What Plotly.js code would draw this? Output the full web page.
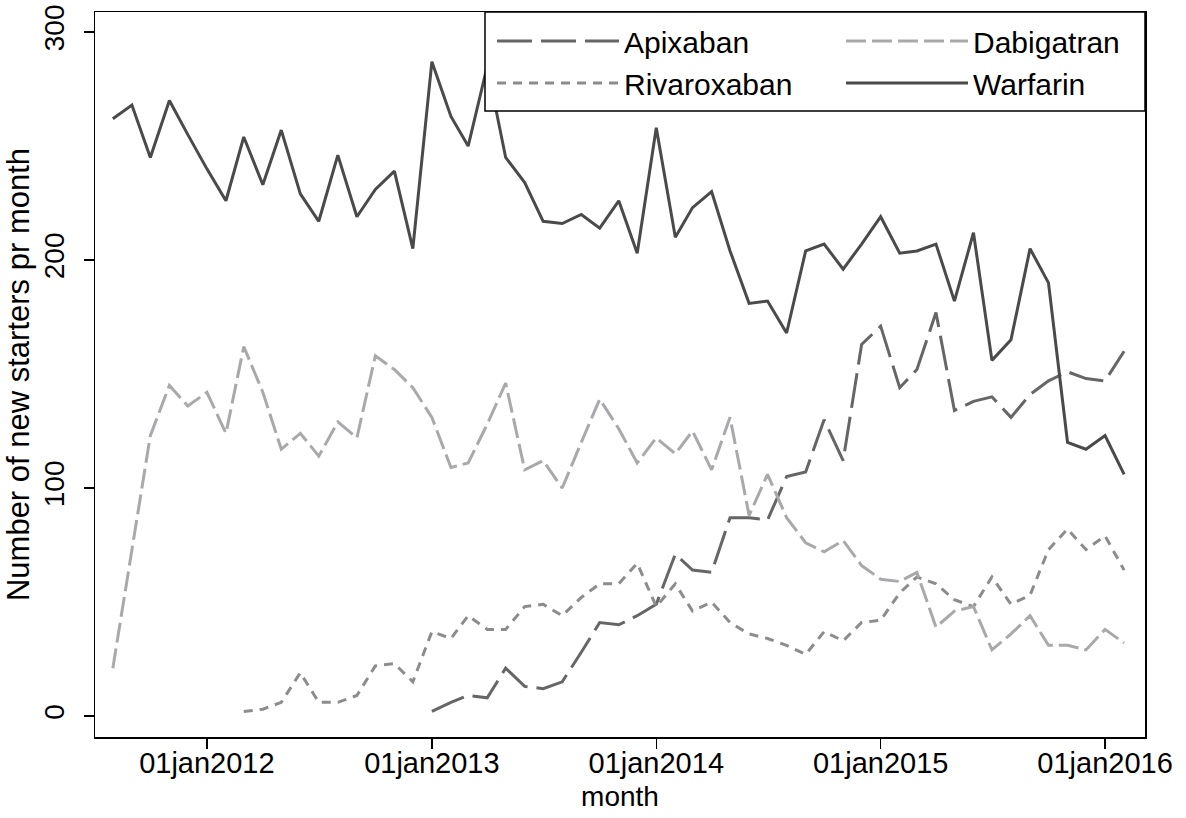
<!DOCTYPE html>
<html>
<head>
<meta charset="utf-8">
<script src="https://cdn.plot.ly/plotly-3.0.1.min.js"></script>
<style>html,body{margin:0;padding:0;background:#fff;}#chart{width:1186px;height:818px;}</style>
</head>
<body>
<div id="chart"></div>
<script>
// Months: Aug 2011 .. Feb 2016 (55 monthly points)
const startYear = 2011, startMonth = 8, nMonths = 55;
const months = [];
for (let k = 0; k < nMonths; k++) {
  const m0 = startMonth - 1 + k;
  const y = startYear + Math.floor(m0 / 12);
  const m = (m0 % 12) + 1;
  months.push(y + '-' + String(m).padStart(2, '0') + '-01');
}

const warfarin = [262, 268, 245, 270, 255, 240, 226, 254, 233, 257, 229, 217, 246, 219, 231, 239, 205, 287,
  263, 250, 285, 245, 234, 217, 216, 220, 214, 226, 203, 258, 210, 223, 230, 204, 181, 182, 168,
  204, 207, 196, 207, 219, 203, 204, 207, 182, 212, 156, 165, 205, 190, 120, 117, 123, 106];

const dabigatran = [21, 72, 123, 145, 136, 142, 124, 162, 142, 117, 124, 114, 129, 122, 158, 152, 144, 131,
  109, 111, 128, 146, 108, 112, 100, 120, 139, 126, 111, 122, 115, 125, 108, 131, 88, 106, 87,
  76, 72, 77, 66, 60, 59, 63, 39, 46, 48, 29, 36, 44, 31, 31, 29, 38, 32];

const rivaroxaban = [null, null, null, null, null, null, null, 2, 3, 6, 19, 6, 6, 9, 22, 23, 15, 37,
  34, 44, 38, 38, 48, 49, 44, 52, 58, 58, 67, 48, 58, 46, 50, 41, 36, 34, 31,
  27, 37, 33, 41, 42, 54, 61, 58, 51, 48, 61, 49, 53, 73, 82, 73, 79, 64];

const apixaban = [null, null, null, null, null, null, null, null, null, null, null, null, null, null, null, null, null, 2,
  6, 9, 8, 21, 13, 12, 15, 28, 41, 40, 44, 49, 71, 64, 63, 87, 87, 86, 105,
  107, 130, 112, 163, 171, 144, 152, 177, 134, 138, 140, 131, 141, 147, 151, 148, 147, 160];

const tickDates = ['2012-01-01', '2013-01-01', '2014-01-01', '2015-01-01', '2016-01-01'];
const tickLabels = ['01jan2012', '01jan2013', '01jan2014', '01jan2015', '01jan2016'];
const yTicks = [0, 100, 200, 300];

const FONT = 'Liberation Sans, Arial, Helvetica, sans-serif';

const traces = [
  {x: months, y: apixaban, name: 'Apixaban', mode: 'lines', legend: 'legend',
   line: {color: '#666666', width: 3, dash: '35px,9px'}},
  {x: months, y: rivaroxaban, name: 'Rivaroxaban', mode: 'lines', legend: 'legend',
   line: {color: '#8c8c8c', width: 3, dash: '9px,7px'}},
  {x: months, y: dabigatran, name: 'Dabigatran', mode: 'lines', legend: 'legend2',
   line: {color: '#a9a9ad', width: 3, dash: '20px,6px'}},
  {x: months, y: warfarin, name: 'Warfarin', mode: 'lines', legend: 'legend2',
   line: {color: '#4a4a4a', width: 3}}
];

const plotL = 95, plotR = 1145, plotT = 12, plotB = 737;
const W = plotR - plotL, H = plotB - plotT;
const fx = px => (px - plotL) / W;
const fy = py => (plotB - py) / H;

const layout = {
  width: 1186, height: 818,
  margin: {l: plotL, r: 1186 - plotR, t: plotT, b: 818 - plotB, pad: 0},
  paper_bgcolor: '#ffffff', plot_bgcolor: '#ffffff',
  font: {family: FONT, color: '#000000', size: 28},
  showlegend: true,
  xaxis: {
    type: 'date', range: ['2011-07-03', '2016-03-06'],
    tickvals: tickDates, ticktext: tickLabels,
    ticks: 'outside', ticklen: 10, tickwidth: 1.5, tickcolor: '#000',
    showgrid: false, zeroline: false,
    showline: true, linecolor: '#000', linewidth: 1.5, mirror: true,
    tickfont: {size: 29, family: FONT},
    ticklabelstandoff: -10,
    title: {text: 'month', font: {size: 28, family: FONT}, standoff: 8}
  },
  yaxis: {
    range: [-9.2, 308.8],
    tickvals: yTicks, ticktext: yTicks.map(String),
    tickangle: -90,
    ticks: 'outside', ticklen: 10, tickwidth: 1.5, tickcolor: '#000',
    showgrid: false, zeroline: false,
    showline: true, linecolor: '#000', linewidth: 1.5, mirror: true,
    tickfont: {size: 28, family: FONT},
    ticklabelstandoff: 8,
    title: {text: 'Number of new starters pr month', font: {size: 31, family: FONT}, standoff: 0}
  },
  shapes: [{
    type: 'rect', xref: 'paper', yref: 'paper', layer: 'above',
    x0: fx(485), x1: 1, y0: fy(111), y1: 1,
    fillcolor: '#ffffff', line: {color: '#000', width: 1.5}
  }],
  legend: {
    x: fx(492), xanchor: 'left', y: fy(15), yanchor: 'top',
    bgcolor: 'rgba(0,0,0,0)', borderwidth: 0,
    font: {size: 30, family: FONT, color: '#000'},
    itemwidth: 122, tracegroupgap: 0
  },
  legend2: {
    x: fx(841), xanchor: 'left', y: fy(15), yanchor: 'top',
    bgcolor: 'rgba(0,0,0,0)', borderwidth: 0,
    font: {size: 30, family: FONT, color: '#000'},
    itemwidth: 122, tracegroupgap: 0
  }
};

Plotly.newPlot('chart', traces, layout, {displayModeBar: false, staticPlot: true});
</script>
</body>
</html>
